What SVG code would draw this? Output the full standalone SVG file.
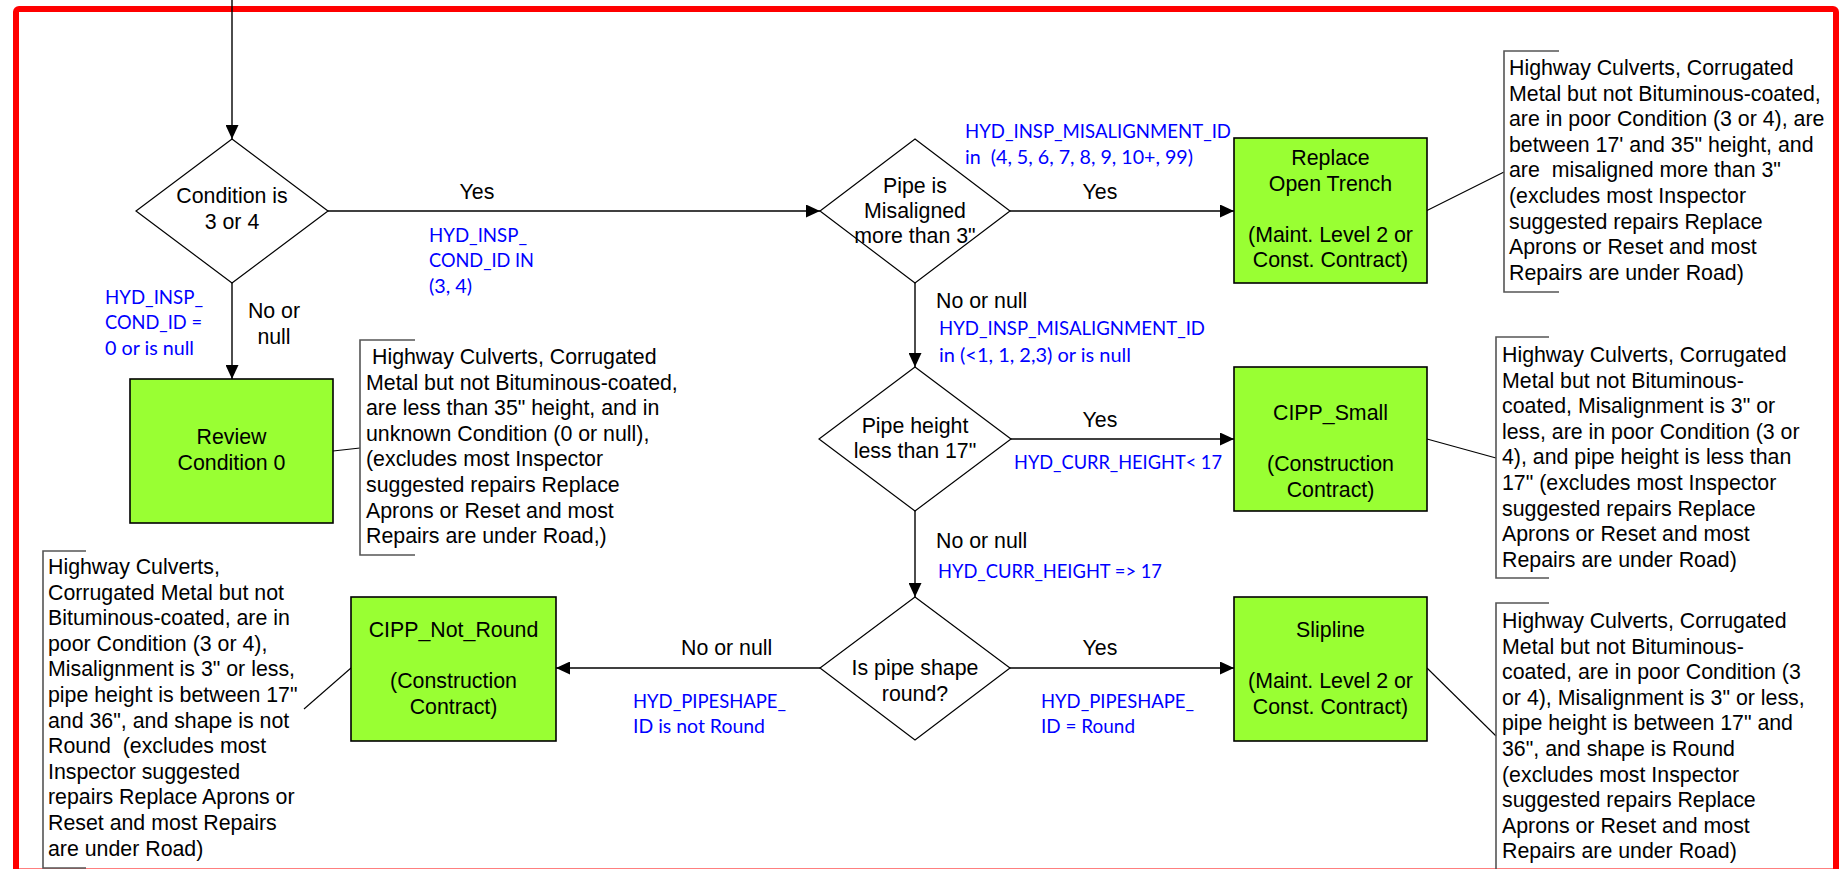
<svg xmlns="http://www.w3.org/2000/svg" width="1845" height="869" viewBox="0 0 1845 869">
  <style>
    .bg { fill: #ffffff; }
    .frame { fill: none; stroke: #ff0000; stroke-width: 6; }
    .dec { fill: #ffffff; stroke: #000000; stroke-width: 1.2; }
    .act { fill: #99ff33; stroke: #000000; stroke-width: 1.6; }
    .flow { fill: none; stroke: #000000; stroke-width: 1.4; marker-end: url(#arrow); }
    .callout { fill: none; stroke: #000000; stroke-width: 1.1; }
    .bracket { fill: none; stroke: #555555; stroke-width: 1.6; }
    .t { font-family: "Liberation Sans", Arial, sans-serif; font-size: 21.33px; fill: #000000; }
    .c { text-anchor: middle; }
    .q { font-family: Lato, "Open Sans", sans-serif; font-size: 19px; fill: #0000ff; }
  </style>
  <defs>
    <marker id="arrow" viewBox="0 0 14 13" refX="14" refY="6.5" markerWidth="14" markerHeight="13" markerUnits="userSpaceOnUse" orient="auto">
      <path d="M0,0 L14,6.5 L0,13 Z" fill="#000000"/>
    </marker>
  </defs>

  <rect class="bg" x="0" y="0" width="1845" height="869"/>
  <rect class="frame" x="16" y="9" width="1820" height="862.5" rx="3"/>

  <!-- flow connectors -->
  <g id="connectors">
    <line class="flow" x1="232" y1="0" x2="232" y2="139"/>
    <line class="flow" x1="328" y1="211" x2="820" y2="211"/>
    <line class="flow" x1="232" y1="283" x2="232" y2="379"/>
    <line class="flow" x1="1010" y1="211" x2="1234" y2="211"/>
    <line class="flow" x1="915" y1="283" x2="915" y2="367"/>
    <line class="flow" x1="1011" y1="439" x2="1234" y2="439"/>
    <line class="flow" x1="915" y1="511" x2="915" y2="597"/>
    <line class="flow" x1="1010" y1="668" x2="1234" y2="668"/>
    <line class="flow" x1="820" y1="668" x2="556" y2="668"/>
    <!-- annotation leaders -->
    <line class="callout" x1="333" y1="451" x2="360" y2="448"/>
    <line class="callout" x1="1426" y1="211" x2="1504" y2="172"/>
    <line class="callout" x1="1427" y1="439" x2="1496" y2="458"/>
    <line class="callout" x1="1427" y1="668" x2="1496" y2="736"/>
    <line class="callout" x1="351" y1="668" x2="304" y2="709"/>
  </g>

  <!-- branch labels -->
  <g id="labels">
    <text class="t c" x="477" y="199">Yes</text>
    <text class="t c" x="1100" y="199">Yes</text>
    <text class="t c" x="1100" y="427">Yes</text>
    <text class="t c" x="1100" y="655">Yes</text>
    <text class="t c" x="274" y="318">No or</text>
    <text class="t c" x="274" y="344">null</text>
    <text class="t" x="936" y="308">No or null</text>
    <text class="t" x="936" y="548">No or null</text>
    <text class="t" x="681" y="655">No or null</text>

    <text class="q" x="429" y="242" textLength="98" lengthAdjust="spacingAndGlyphs">HYD_INSP_</text>
    <text class="q" x="429" y="267" textLength="105" lengthAdjust="spacingAndGlyphs">COND_ID IN</text>
    <text class="q" x="429" y="293" textLength="43" lengthAdjust="spacingAndGlyphs">(3, 4)</text>

    <text class="q" x="105" y="304" textLength="98" lengthAdjust="spacingAndGlyphs">HYD_INSP_</text>
    <text class="q" x="105" y="329" textLength="97" lengthAdjust="spacingAndGlyphs">COND_ID =</text>
    <text class="q" x="105" y="355" textLength="89" lengthAdjust="spacingAndGlyphs">0 or is null</text>

    <text class="q" x="965" y="138" textLength="266" lengthAdjust="spacingAndGlyphs">HYD_INSP_MISALIGNMENT_ID</text>
    <text class="q" x="965" y="164" textLength="228" lengthAdjust="spacingAndGlyphs" xml:space="preserve">in  (4, 5, 6, 7, 8, 9, 10+, 99)</text>

    <text class="q" x="939" y="335" textLength="266" lengthAdjust="spacingAndGlyphs">HYD_INSP_MISALIGNMENT_ID</text>
    <text class="q" x="939" y="362" textLength="192" lengthAdjust="spacingAndGlyphs">in (&lt;1, 1, 2,3) or is null</text>

    <text class="q" x="1014" y="469" textLength="208" lengthAdjust="spacingAndGlyphs">HYD_CURR_HEIGHT&lt; 17</text>
    <text class="q" x="938" y="578" textLength="224" lengthAdjust="spacingAndGlyphs">HYD_CURR_HEIGHT =&gt; 17</text>

    <text class="q" x="1041" y="708" textLength="153" lengthAdjust="spacingAndGlyphs">HYD_PIPESHAPE_</text>
    <text class="q" x="1041" y="733" textLength="94" lengthAdjust="spacingAndGlyphs">ID = Round</text>

    <text class="q" x="633" y="708" textLength="153" lengthAdjust="spacingAndGlyphs">HYD_PIPESHAPE_</text>
    <text class="q" x="633" y="733" textLength="132" lengthAdjust="spacingAndGlyphs">ID is not Round</text>
  </g>

  <!-- decisions -->
  <g id="cond-3-or-4">
    <polygon class="dec" points="232,139 328,211 232,283 136,211"/>
    <text class="t c" x="232" y="203">Condition is</text>
    <text class="t c" x="232" y="229">3 or 4</text>
  </g>
  <g id="misaligned">
    <polygon class="dec" points="915,139 1010,211 915,283 820,211"/>
    <text class="t c" x="915" y="193">Pipe is</text>
    <text class="t c" x="915" y="218">Misaligned</text>
    <text class="t c" x="915" y="243">more than 3"</text>
  </g>
  <g id="height-lt-17">
    <polygon class="dec" points="915,367 1011,439 915,511 819,439"/>
    <text class="t c" x="915" y="433">Pipe height</text>
    <text class="t c" x="915" y="458">less than 17"</text>
  </g>
  <g id="shape-round">
    <polygon class="dec" points="915,597 1010,668 915,740 820,668"/>
    <text class="t c" x="915" y="675">Is pipe shape</text>
    <text class="t c" x="915" y="701">round?</text>
  </g>

  <!-- actions -->
  <g id="review-cond-0">
    <rect class="act" x="130" y="379" width="203" height="144"/>
    <text class="t c" x="231.5" y="444">Review</text>
    <text class="t c" x="231.5" y="470">Condition 0</text>
  </g>
  <g id="replace-open-trench">
    <rect class="act" x="1234" y="138" width="193" height="145"/>
    <text class="t c" x="1330.5" y="165">Replace</text>
    <text class="t c" x="1330.5" y="190.6">Open Trench</text>
    <text class="t c" x="1330.5" y="241.8">(Maint. Level 2 or</text>
    <text class="t c" x="1330.5" y="267.4">Const. Contract)</text>
  </g>
  <g id="cipp-small">
    <rect class="act" x="1234" y="367" width="193" height="144"/>
    <text class="t c" x="1330.5" y="420">CIPP_Small</text>
    <text class="t c" x="1330.5" y="471.2">(Construction</text>
    <text class="t c" x="1330.5" y="496.8">Contract)</text>
  </g>
  <g id="slipline">
    <rect class="act" x="1234" y="597" width="193" height="144"/>
    <text class="t c" x="1330.5" y="637">Slipline</text>
    <text class="t c" x="1330.5" y="688.2">(Maint. Level 2 or</text>
    <text class="t c" x="1330.5" y="713.8">Const. Contract)</text>
  </g>
  <g id="cipp-not-round">
    <rect class="act" x="351" y="597" width="205" height="144"/>
    <text class="t c" x="453.5" y="637">CIPP_Not_Round</text>
    <text class="t c" x="453.5" y="688.2">(Construction</text>
    <text class="t c" x="453.5" y="713.8">Contract)</text>
  </g>

  <!-- annotations -->
  <g id="note-review">
    <path class="bracket" d="M415,340 H360 V555 H415"/>
    <text class="t" x="372" y="364">Highway Culverts, Corrugated</text>
    <text class="t" x="366" y="389.6">Metal but not Bituminous-coated,</text>
    <text class="t" x="366" y="415.2">are less than 35" height, and in</text>
    <text class="t" x="366" y="440.8">unknown Condition (0 or null),</text>
    <text class="t" x="366" y="466.4">(excludes most Inspector</text>
    <text class="t" x="366" y="492">suggested repairs Replace</text>
    <text class="t" x="366" y="517.6">Aprons or Reset and most</text>
    <text class="t" x="366" y="543.2">Repairs are under Road,)</text>
  </g>
  <g id="note-replace">
    <path class="bracket" d="M1559,51 H1504 V292 H1559"/>
    <text class="t" x="1509" y="75">Highway Culverts, Corrugated</text>
    <text class="t" x="1509" y="100.6">Metal but not Bituminous-coated,</text>
    <text class="t" x="1509" y="126.2">are in poor Condition (3 or 4), are</text>
    <text class="t" x="1509" y="151.8">between 17' and 35" height, and</text>
    <text class="t" x="1509" y="177.4" xml:space="preserve">are  misaligned more than 3"</text>
    <text class="t" x="1509" y="203">(excludes most Inspector</text>
    <text class="t" x="1509" y="228.6">suggested repairs Replace</text>
    <text class="t" x="1509" y="254.2">Aprons or Reset and most</text>
    <text class="t" x="1509" y="279.8">Repairs are under Road)</text>
  </g>
  <g id="note-cipp-small">
    <path class="bracket" d="M1549,337 H1496 V578 H1549"/>
    <text class="t" x="1502" y="362">Highway Culverts, Corrugated</text>
    <text class="t" x="1502" y="387.6">Metal but not Bituminous-</text>
    <text class="t" x="1502" y="413.2">coated, Misalignment is 3" or</text>
    <text class="t" x="1502" y="438.8">less, are in poor Condition (3 or</text>
    <text class="t" x="1502" y="464.4">4), and pipe height is less than</text>
    <text class="t" x="1502" y="490">17" (excludes most Inspector</text>
    <text class="t" x="1502" y="515.6">suggested repairs Replace</text>
    <text class="t" x="1502" y="541.2">Aprons or Reset and most</text>
    <text class="t" x="1502" y="566.8">Repairs are under Road)</text>
  </g>
  <g id="note-slipline">
    <path class="bracket" d="M1549,603 H1496 V880"/>
    <text class="t" x="1502" y="628">Highway Culverts, Corrugated</text>
    <text class="t" x="1502" y="653.6">Metal but not Bituminous-</text>
    <text class="t" x="1502" y="679.2">coated, are in poor Condition (3</text>
    <text class="t" x="1502" y="704.8">or 4), Misalignment is 3" or less,</text>
    <text class="t" x="1502" y="730.4">pipe height is between 17" and</text>
    <text class="t" x="1502" y="756">36", and shape is Round</text>
    <text class="t" x="1502" y="781.6">(excludes most Inspector</text>
    <text class="t" x="1502" y="807.2">suggested repairs Replace</text>
    <text class="t" x="1502" y="832.8">Aprons or Reset and most</text>
    <text class="t" x="1502" y="858.4">Repairs are under Road)</text>
  </g>
  <g id="note-cipp-not-round">
    <path class="bracket" d="M86,551 H43 V868 H86"/>
    <text class="t" x="48" y="574">Highway Culverts,</text>
    <text class="t" x="48" y="599.6">Corrugated Metal but not</text>
    <text class="t" x="48" y="625.2">Bituminous-coated, are in</text>
    <text class="t" x="48" y="650.8">poor Condition (3 or 4),</text>
    <text class="t" x="48" y="676.4">Misalignment is 3" or less,</text>
    <text class="t" x="48" y="702">pipe height is between 17"</text>
    <text class="t" x="48" y="727.6">and 36", and shape is not</text>
    <text class="t" x="48" y="753.2" xml:space="preserve">Round  (excludes most</text>
    <text class="t" x="48" y="778.8">Inspector suggested</text>
    <text class="t" x="48" y="804.4">repairs Replace Aprons or</text>
    <text class="t" x="48" y="830">Reset and most Repairs</text>
    <text class="t" x="48" y="855.6">are under Road)</text>
  </g>
</svg>
